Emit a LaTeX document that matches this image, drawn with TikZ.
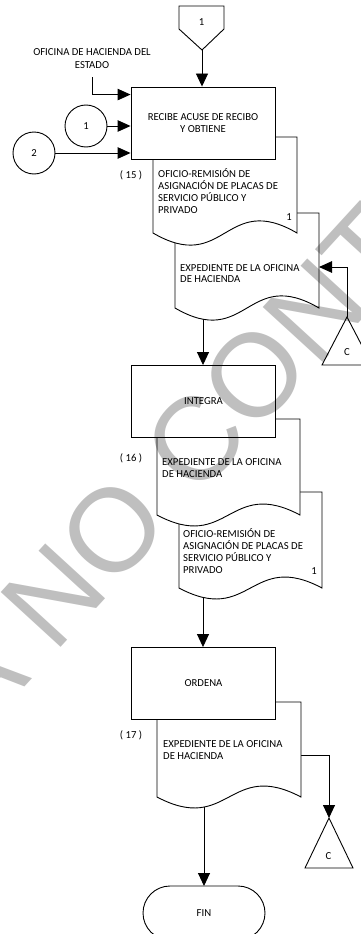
\documentclass[tikz,border=0pt]{standalone}
\usepackage{fontspec}
\setmainfont{Carlito}
\newfontfamily\wmfont{Liberation Sans}
\usetikzlibrary{arrows.meta,calc}
\pgfdeclarelayer{bg}
\pgfsetlayers{bg,main}
\newcommand\fs{\fontsize{10.7}{11.6}\selectfont}
\tikzset{
  x=1pt, y=-1pt,
  ln/.style={line width=0.9pt},
  box/.style={draw, fill=white, ln, minimum width=144pt, minimum height=72pt, inner sep=0pt, align=center, font=\fs},
  txt/.style={inner sep=0pt, font=\fs},
  circ/.style={draw, fill=white, ln, circle, minimum size=42pt, inner sep=0pt, font=\fs},
  arr/.style={ln, -{Triangle[length=13pt,width=12pt]}},
  shp/.style={draw, fill=white, ln},
  wm/.style={inner sep=0pt, font=\wmfont\fontsize{118}{118}\selectfont, text opacity=0.25, rotate=47.5}
}
% name, L, T, R, B, h
\newcommand\docshape[6]{%
  \path[shp] (#2,#3) -- (#4,#3) -- (#4,#5)
    .. controls ({(#2+#4)/2},{#5-#6}) and ({(#2+#4)/2},{#5+#6}) .. (#2,#5) -- cycle;
  \coordinate (#1nw) at (#2,#3);
}
\begin{document}
\begin{tikzpicture}
\useasboundingbox (0,0) rectangle (360,934);

% off-page connector 1
\path[shp] (179,6) -- (224,6) -- (224,29) -- (202,50) -- (179,29) -- cycle;
\coordinate (p1s) at (202,50);
\node[txt, anchor=base] (p1t) at (201.5,25.5) {1};

% label
\node[txt, anchor=base] (lab1) at (92,56) {OFICINA DE HACIENDA DEL};
\node[txt, anchor=base] (lab2) at (92,68.5) {ESTADO};
\coordinate (labs) at (92,77);

% circles
\node[circ] (c1) at (86,126) {1};
\node[circ] (c2) at (34,153) {2};

% block 15
\docshape{d2}{175}{213}{319}{308}{42}
\coordinate (d2e) at (319,267);
\coordinate (d2s) at (203,308);
\node[txt, anchor=base west] (d2l1) at (180,271) {EXPEDIENTE DE LA OFICINA};
\node[txt, anchor=base west] (d2l2) at (180,282.5) {DE HACIENDA};

\docshape{d1}{153}{137}{297}{233}{42}
\node[txt, anchor=base west] (d1l1) at (158,177.5) {OFICIO-REMISIÓN DE};
\node[txt, anchor=base west] (d1l2) at (158,189.5) {ASIGNACIÓN DE PLACAS DE};
\node[txt, anchor=base west] (d1l3) at (158,201.5) {SERVICIO PÚBLICO Y};
\node[txt, anchor=base west] (d1l4) at (158,213.5) {PRIVADO};
\node[txt, anchor=base east] (d1n) at (292,220) {1};
\node[txt, anchor=base] (n15) at (131,178.5) {( 15 )};

\node[box] (b1) at (203,123) {RECIBE ACUSE DE RECIBO\\Y OBTIENE};

% connector C (top)
\path[shp] (347,317) -- (372,365) -- (322,365) -- cycle;
\coordinate (ct1) at (347,317);
\node[txt] (ct1t) at (347,352) {C};

% block 16
\docshape{d4}{179}{492}{322}{588}{38}
\coordinate (d4s) at (203,588);
\node[txt, anchor=base west] (d4l1) at (183,537) {OFICIO-REMISIÓN DE};
\node[txt, anchor=base west] (d4l2) at (183,549) {ASIGNACIÓN DE PLACAS DE};
\node[txt, anchor=base west] (d4l3) at (183,561) {SERVICIO PÚBLICO Y};
\node[txt, anchor=base west] (d4l4) at (183,573) {PRIVADO};
\node[txt, anchor=base east] (d4n) at (317,574) {1};

\docshape{d3}{157}{419}{300}{515}{38}
\node[txt, anchor=base west] (d3l1) at (162,465) {EXPEDIENTE DE LA OFICINA};
\node[txt, anchor=base west] (d3l2) at (162,477) {DE HACIENDA};
\node[txt, anchor=base] (n16) at (131,461) {( 16 )};

\node[box] (b2) at (203.5,401.5) {INTEGRA};

% block 17
\docshape{d5}{157}{702}{301}{797}{38}
\coordinate (d5e) at (301,755);
\coordinate (d5s) at (204,797);
\node[txt, anchor=base west] (d5l1) at (163,747.5) {EXPEDIENTE DE LA OFICINA};
\node[txt, anchor=base west] (d5l2) at (163,759) {DE HACIENDA};
\node[txt, anchor=base] (n17) at (131,738) {( 17 )};

\node[box] (b3) at (203.5,683.5) {ORDENA};

% connector C (bottom)
\path[shp] (329,818) -- (353,868) -- (305,868) -- cycle;
\coordinate (ct2) at (329,818);
\node[txt] (ct2t) at (328.5,856) {C};

% FIN
\draw[shp, rounded corners=27pt] (143,886) rectangle (265,940);
\node[txt] (fin) at (204,913) {FIN};
\coordinate (fint) at (204,886);

% connectors
\begin{pgfonlayer}{bg}
\draw[arr] (p1s) -- (p1s |- b1.north);
\draw[ln, -{Triangle[length=13pt,width=11.5pt]}] (labs) |- ($(b1.north west)+(0,8)$);
\draw[ln, -{Triangle[length=13pt,width=11.5pt]}] (c1.east) -- (c1.east -| b1.west);
\draw[ln, -{Triangle[length=13pt,width=11.5pt]}] (c2.east) -- (c2.east -| b1.west);
\draw[ln, -{Triangle[length=13pt,width=11.5pt]}] (ct1) |- (d2e);
\draw[arr] (d2s) -- (d2s |- b2.north);
\draw[arr] (d4s) -- (d4s |- b3.north);
\draw[arr] (d5e) -| (ct2);
\draw[arr] (d5s) -- (fint);
\end{pgfonlayer}

% watermark
\begin{scope}
\clip (0,0) rectangle (360,934);
\node[wm, anchor=base west] (wm1) at (196.3,499.9) {CONTROLADA};
\node[wm, anchor=base east] (wm2) at (174.1,524.1) {COPIA NO};
\end{scope}
\end{tikzpicture}
\end{document}
